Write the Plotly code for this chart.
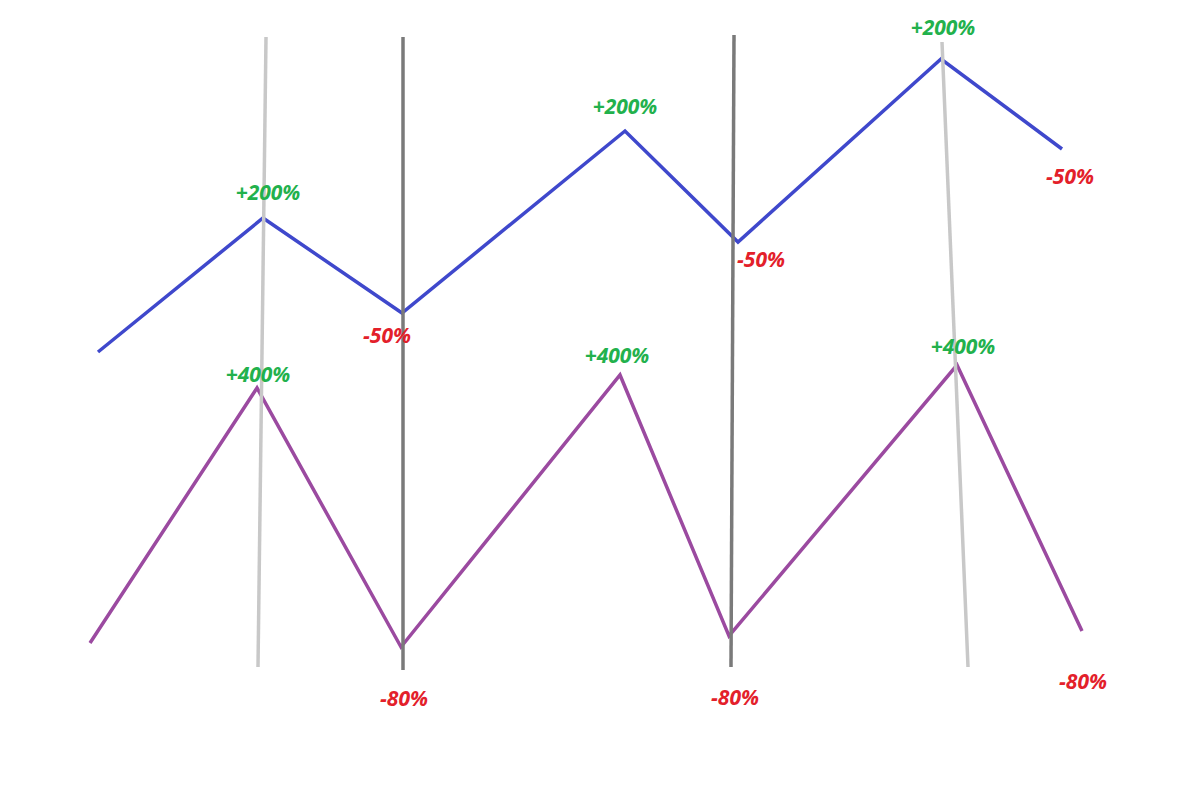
import plotly.graph_objects as go

# Upper (blue) series: time position and level
blue_x = [98, 263, 402, 625, 738, 941, 1062]
blue_y = [352, 218, 313, 131, 242, 59, 149]

# Lower (purple) series
purple_x = [90, 257, 401, 620, 729, 957, 1082]
purple_y = [643, 388, 647, 375, 636, 365, 631]

# Vertical marker lines (start/end)
light_lines = [((266, 37), (258, 667)), ((942, 42), (968, 667))]
dark_lines = [((403, 37), (403, 670)), ((734, 35), (731, 667))]

# Labels
green_labels = ["+200%", "+200%", "+200%", "+400%", "+400%", "+400%"]
green_x = [268, 625, 943, 258, 617, 963]
green_y = [195, 109, 30, 377, 358, 349]

red_labels = ["-50%", "-50%", "-50%", "-80%", "-80%", "-80%"]
red_x = [387, 761, 1070, 404, 735, 1083]
red_y = [338, 262, 179, 701, 700, 684]

fig = go.Figure()

fig.add_trace(go.Scatter(x=blue_x, y=blue_y, mode="lines",
                         line=dict(color="#3f48cc", width=3.5), hoverinfo="skip"))
fig.add_trace(go.Scatter(x=purple_x, y=purple_y, mode="lines",
                         line=dict(color="#9b4aa0", width=3.5), hoverinfo="skip"))

for (x0, y0), (x1, y1) in light_lines:
    fig.add_trace(go.Scatter(x=[x0, x1], y=[y0, y1], mode="lines",
                             line=dict(color="#c8c8c8", width=3.5), hoverinfo="skip"))
for (x0, y0), (x1, y1) in dark_lines:
    fig.add_trace(go.Scatter(x=[x0, x1], y=[y0, y1], mode="lines",
                             line=dict(color="#7a7a7a", width=3.5), hoverinfo="skip"))

lab_font = dict(family="Open Sans", size=21, weight="bold", style="italic")
fig.add_trace(go.Scatter(x=green_x, y=green_y, mode="text", text=green_labels,
                         textfont=dict(color="#22b14c", **lab_font), hoverinfo="skip"))
fig.add_trace(go.Scatter(x=red_x, y=red_y, mode="text", text=red_labels,
                         textfont=dict(color="#e3202a", **lab_font), hoverinfo="skip"))

fig.update_layout(
    width=1200, height=806,
    margin=dict(l=0, r=0, t=0, b=0),
    paper_bgcolor="white", plot_bgcolor="white",
    showlegend=False,
    xaxis=dict(range=[8, 1208], visible=False, fixedrange=True),
    yaxis=dict(range=[814, 8], visible=False, fixedrange=True),
)

fig.write_html("out.html", config={"displayModeBar": False})
